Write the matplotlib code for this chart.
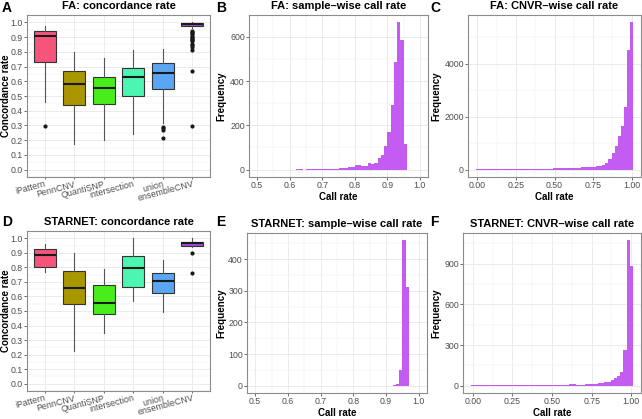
"""
Concordance rate boxplots (FA / STARNET) and call-rate histograms.
Six panels A-F, ggplot-like look.
"""

import numpy as np
import matplotlib
matplotlib.use('Agg')
import matplotlib.pyplot as plt
from matplotlib.ticker import MultipleLocator, FixedLocator

plt.rcParams['font.family'] = ['Liberation Sans', 'DejaVu Sans']

# ---- boxplot data ----
CATEGORIES = ['iPattern', 'PennCNV', 'QuantiSNP', 'intersection', 'union', 'ensembleCNV']
BOX_COLORS = ['#F5557A', '#A99600', '#48EE1C', '#4DF5B3', '#5AA6F2', '#A347DB']

# FA concordance rate (whisker low, Q1, median, Q3, whisker high)
FA_WHISLO = [0.462, 0.173, 0.203, 0.245, 0.32, 0.962]
FA_Q1 = [0.734, 0.437, 0.448, 0.498, 0.55, 0.975]
FA_MED = [0.905, 0.583, 0.556, 0.626, 0.653, 0.987]
FA_Q3 = [0.944, 0.667, 0.631, 0.691, 0.725, 0.995]
FA_WHISHI = [0.973, 0.80, 0.755, 0.809, 0.822, 1.0]
FA_FLIERS = [[0.295], [], [], [], [0.289, 0.28, 0.272, 0.215],
             [0.94, 0.932, 0.925, 0.918, 0.91, 0.903, 0.895, 0.888, 0.88,
              0.872, 0.855, 0.845, 0.83, 0.815, 0.668, 0.298]]

# STARNET concordance rate
ST_WHISLO = [0.769, 0.226, 0.351, 0.566, 0.491, 0.94]
ST_Q1 = [0.803, 0.55, 0.48, 0.663, 0.624, 0.946]
ST_MED = [0.882, 0.656, 0.554, 0.799, 0.708, 0.966]
ST_Q3 = [0.923, 0.776, 0.679, 0.878, 0.762, 0.973]
ST_WHISHI = [0.962, 0.90, 0.792, 1.0, 0.853, 1.0]
ST_FLIERS = [[], [], [], [], [], [0.898, 0.762]]

# ---- histogram data ----
HIST_COLOR = '#C45CF2'

# FA sample-wise call rate, bins of 0.01 starting at 0.60
FA_SAMPLE_START = 0.60
FA_SAMPLE_WIDTH = 0.01
FA_SAMPLE_COUNTS = [0, 0, 1, 1, 0, 1, 1, 1, 2, 2, 2, 3, 3, 4, 5, 6, 8, 8, 10, 12,
                    20, 19, 18, 16, 29, 26, 31, 53, 66, 105, 172, 290, 486, 665,
                    587, 115]

# STARNET sample-wise call rate, bins of 0.01 starting at 0.92
ST_SAMPLE_START = 0.92
ST_SAMPLE_WIDTH = 0.01
ST_SAMPLE_COUNTS = [2, 5, 50, 460, 313]

# CNVR-wise call rate, bins of 0.02 centred on 0.00 ... 1.00
CNVR_WIDTH = 0.02
FA_CNVR_COUNTS = [20, 12, 12, 13, 14, 15, 15, 16, 17, 18,
                  19, 20, 21, 22, 23, 24, 26, 27, 29, 31,
                  33, 35, 37, 39, 41, 44, 47, 50, 54, 58,
                  62, 67, 72, 78, 84, 90, 97, 105, 115, 130,
                  155, 189, 252, 415, 629, 906, 1283, 1660, 2352, 4504,
                  5560]
ST_CNVR_COUNTS = [5, 2, 2, 2, 3, 3, 3, 3, 3, 4,
                  4, 4, 4, 4, 5, 5, 5, 5, 5, 5,
                  6, 6, 6, 6, 6, 7, 7, 7, 7, 8,
                  8, 10, 12, 8, 9, 9, 10, 11, 12, 14,
                  17, 22, 27, 31, 39, 58, 75, 99, 260, 1072,
                  880]

W, H = 642, 419
GRID = '#EBEBEB'
BORDER = '#8C8C8C'
TICKTXT = '#4D4D4D'


def px_axes(fig, left, top, right, bottom):
    """Add axes from pixel edges (origin top-left)."""
    return fig.add_axes([left / W, 1 - bottom / H, (right - left) / W, (bottom - top) / H])


def style_axes(ax):
    ax.set_axisbelow(True)
    for s in ax.spines.values():
        s.set_color(BORDER)
        s.set_linewidth(0.8)
    ax.tick_params(which='major', length=2.0, width=0.5, color='#333333',
                   labelsize=6.3, labelcolor=TICKTXT, pad=1.0)
    ax.tick_params(which='minor', length=0)
    ax.grid(True, which='major', color=GRID, linewidth=0.7)
    ax.grid(True, which='minor', color=GRID, linewidth=0.35)


def box_panel(ax, title, whislo, q1, med, q3, whishi, fliers, ylab_x):
    stats = []
    for i, name in enumerate(CATEGORIES):
        stats.append({'label': name, 'whislo': whislo[i], 'q1': q1[i], 'med': med[i],
                      'q3': q3[i], 'whishi': whishi[i], 'fliers': fliers[i]})
    bp = ax.bxp(stats, positions=range(1, len(CATEGORIES) + 1), widths=0.75,
                patch_artist=True, showcaps=False,
                boxprops=dict(edgecolor='#333333', linewidth=0.8),
                medianprops=dict(color='#1A1A1A', linewidth=1.5),
                whiskerprops=dict(color='#555555', linewidth=0.8),
                flierprops=dict(marker='o', markersize=3, markerfacecolor='#1A1A1A',
                                markeredgecolor='none'))
    for patch, c in zip(bp['boxes'], BOX_COLORS):
        patch.set_facecolor(c)
    ax.set_xlim(0.4, len(CATEGORIES) + 0.6)
    ax.set_ylim(-0.05, 1.05)
    ax.yaxis.set_major_locator(MultipleLocator(0.1))
    ax.yaxis.set_minor_locator(MultipleLocator(0.05))
    ax.set_yticklabels([f'{v:.1f}' for v in ax.get_yticks()])
    style_axes(ax)
    ax.grid(False, which='minor', axis='x')
    ax.set_xticklabels(CATEGORIES, rotation=15, ha='right', va='top',
                       rotation_mode='anchor', fontsize=6.4)
    ax.tick_params(axis='x', which='major', length=1.6, pad=0.2)
    ax.set_ylabel('Concordance rate', fontsize=7, fontweight='bold')
    ax.yaxis.set_label_coords(ylab_x, 0.5)
    ax.set_title(title, fontsize=8, fontweight='bold', pad=4)


def hist_panel(ax, title, centers, counts, width, xlim, xmajor, xminor, ymajor, yminor,
               xfmt, ylab_x):
    ax.bar(centers, counts, width=width, color=HIST_COLOR, linewidth=0)
    ax.set_xlim(*xlim)
    top = max(counts) * 1.05
    ax.set_ylim(-max(counts) * 0.05, top)
    ax.xaxis.set_major_locator(MultipleLocator(xmajor))
    ax.xaxis.set_minor_locator(MultipleLocator(xminor))
    ax.yaxis.set_major_locator(MultipleLocator(ymajor))
    ax.yaxis.set_minor_locator(MultipleLocator(yminor))
    ticks = [t for t in ax.get_xticks() if xlim[0] <= t <= xlim[1]]
    ax.xaxis.set_major_locator(FixedLocator(ticks))
    ax.set_xticklabels([xfmt.format(t) for t in ticks])
    style_axes(ax)
    ax.set_xlabel('Call rate', fontsize=7, fontweight='bold', labelpad=1)
    ax.set_ylabel('Frequency', fontsize=7, fontweight='bold')
    ax.yaxis.set_label_coords(ylab_x, 0.5)
    ax.set_title(title, fontsize=8, fontweight='bold', pad=4)


def main():
    fig = plt.figure(figsize=(W / 100, H / 100), dpi=100)

    # A / D: concordance boxplots
    axA = px_axes(fig, 27, 15, 210, 177)
    box_panel(axA, 'FA: concordance rate', FA_WHISLO, FA_Q1, FA_MED, FA_Q3,
              FA_WHISHI, FA_FLIERS, -0.09)
    axD = px_axes(fig, 27, 231, 210, 391)
    box_panel(axD, 'STARNET: concordance rate', ST_WHISLO, ST_Q1, ST_MED, ST_Q3,
              ST_WHISHI, ST_FLIERS, -0.09)

    # B / E: sample-wise call rate
    fa_s_centers = FA_SAMPLE_START + FA_SAMPLE_WIDTH * (np.arange(len(FA_SAMPLE_COUNTS)) + 0.5)
    axB = px_axes(fig, 249, 15, 428, 177)
    hist_panel(axB, 'FA: sample\u2013wise call rate', fa_s_centers, FA_SAMPLE_COUNTS,
               FA_SAMPLE_WIDTH, (0.475, 1.025), 0.1, 0.05, 200, 100, '{:.1f}', -0.128)

    st_s_centers = ST_SAMPLE_START + ST_SAMPLE_WIDTH * (np.arange(len(ST_SAMPLE_COUNTS)) + 0.5)
    axE = px_axes(fig, 247, 233, 427, 393)
    hist_panel(axE, 'STARNET: sample\u2013wise call rate', st_s_centers, ST_SAMPLE_COUNTS,
               ST_SAMPLE_WIDTH, (0.475, 1.025), 0.1, 0.05, 100, 50, '{:.1f}', -0.117)

    # C / F: CNVR-wise call rate
    cnvr_centers = CNVR_WIDTH * np.arange(len(FA_CNVR_COUNTS))
    axC = px_axes(fig, 468, 15, 641, 177)
    hist_panel(axC, 'FA: CNVR\u2013wise call rate', cnvr_centers, FA_CNVR_COUNTS,
               CNVR_WIDTH, (-0.061, 1.061), 0.25, 0.125, 2000, 1000, '{:.2f}', -0.156)

    axF = px_axes(fig, 463, 233, 641, 393)
    hist_panel(axF, 'STARNET: CNVR\u2013wise call rate', cnvr_centers, ST_CNVR_COUNTS,
               CNVR_WIDTH, (-0.061, 1.061), 0.25, 0.125, 300, 150, '{:.2f}', -0.124)

    # panel letters
    for letter, x, y in [('A', 2, 1), ('B', 216, 1), ('C', 430, 1),
                         ('D', 2, 215), ('E', 216, 215), ('F', 430, 215)]:
        fig.text(x / W, 1 - y / H, letter, fontsize=10, fontweight='bold',
                 ha='left', va='top')

    fig.savefig('out.png', dpi=100)


if __name__ == '__main__':
    main()
